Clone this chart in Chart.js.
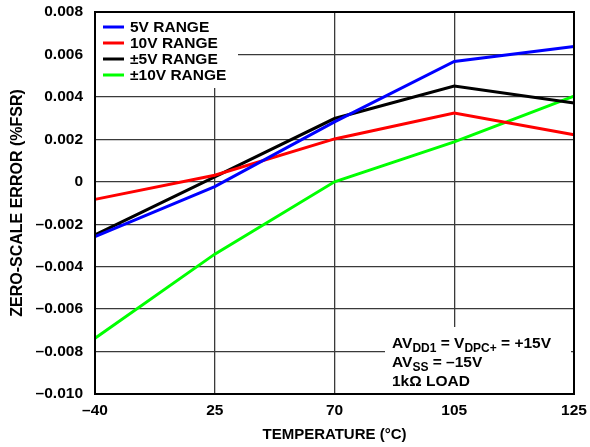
<!DOCTYPE html>
<html>
<head>
<meta charset="utf-8">
<script src="https://cdn.jsdelivr.net/npm/chart.js@4"></script>
<style>
  html, body { margin: 0; padding: 0; background: #fff; }
  #wrap { width: 590px; height: 447px; }
</style>
</head>
<body>
<div id="wrap"><canvas id="myChart" width="590" height="447"></canvas></div>
<script>
// temperatures (category axis, equally spaced in the reference)
const temps = ['\u201340', '25', '70', '105', '125'];

const range5V = [-0.00258, -0.00023, 0.00282, 0.00567, 0.00637];
const range10V = [-0.00083, 0.00031, 0.00202, 0.00324, 0.00222];
const rangePm5V = [-0.0025, 0.00023, 0.00298, 0.00451, 0.00371];
const rangePm10V = [-0.00737, -0.00341, 0.0, 0.00188, 0.00404];

const seriesNames = ['5V RANGE', '10V RANGE', '\u00b15V RANGE', '\u00b110V RANGE'];
const seriesColors = ['#0000ff', '#ff0000', '#000000', '#00ff00'];

const FONT = '"Liberation Sans", Arial, sans-serif';

function fmtTick(v) {
  if (Math.abs(v) < 1e-9) return '0';
  const s = Math.abs(v).toFixed(3);
  return v < 0 ? '\u2013' + s : s;
}

// draws text pieces, some as subscripts
function drawRich(ctx, x, y, parts) {
  let cx = x;
  parts.forEach(p => {
    if (p.sub) {
      ctx.font = 'bold 12px ' + FONT;
      ctx.fillText(p.t, cx, y + 4);
    } else {
      ctx.font = 'bold 15.5px ' + FONT;
      ctx.fillText(p.t, cx, y);
    }
    cx += ctx.measureText(p.t).width;
  });
}

const overlay = {
  id: 'overlay',
  afterDraw(chart) {
    const ctx = chart.ctx;
    const a = chart.chartArea;
    ctx.save();

    // legend box top-left
    ctx.fillStyle = '#fff';
    ctx.fillRect(a.left + 1, a.top + 1, 142, 75);
    chart.data.datasets.forEach((ds, i) => {
      const y = a.top + 15 + i * 16;
      ctx.strokeStyle = ds.borderColor;
      ctx.lineWidth = 3;
      ctx.beginPath();
      ctx.moveTo(a.left + 8, y);
      ctx.lineTo(a.left + 29, y);
      ctx.stroke();
      ctx.fillStyle = '#000';
      ctx.font = 'bold 15.5px ' + FONT;
      ctx.textBaseline = 'middle';
      ctx.fillText(ds.label, a.left + 35, y + 1);
    });

    // conditions box bottom-right
    ctx.fillStyle = '#fff';
    ctx.fillRect(385, 327, 186, a.bottom - 328);
    ctx.fillStyle = '#000';
    ctx.textBaseline = 'alphabetic';
    drawRich(ctx, 392, 348, [{t: 'AV'}, {t: 'DD1', sub: true}, {t: ' = V'}, {t: 'DPC+', sub: true}, {t: ' = +15V'}]);
    drawRich(ctx, 392, 367, [{t: 'AV'}, {t: 'SS', sub: true}, {t: ' = \u201315V'}]);
    drawRich(ctx, 392, 386, [{t: '1k\u03a9 LOAD'}]);

    // frame
    ctx.strokeStyle = '#000';
    ctx.lineWidth = 2;
    ctx.strokeRect(a.left, a.top, a.right - a.left, a.bottom - a.top);
    ctx.restore();
  }
};

const datasets = [range5V, range10V, rangePm5V, rangePm10V].map((d, i) => ({
  label: seriesNames[i],
  data: d,
  borderColor: seriesColors[i],
  backgroundColor: seriesColors[i],
  borderWidth: 3,
  pointRadius: 0,
  tension: 0,
  fill: false
}));

new Chart(document.getElementById('myChart'), {
  type: 'line',
  data: { labels: temps, datasets: datasets },
  options: {
    responsive: false,
    animation: false,
    events: [],
    layout: { padding: { top: 12, right: 16, left: 0, bottom: 0 } },
    plugins: { legend: { display: false }, tooltip: { enabled: false } },
    scales: {
      x: {
        type: 'category',
        offset: false,
        afterFit: s => { s.height = 53; s.paddingLeft = 0; s.paddingRight = 0; },
        grid: { color: '#3a3a3a', lineWidth: 1.3, drawTicks: false },
        border: { display: false },
        ticks: { color: '#000', font: { family: FONT, size: 15.5, weight: 'bold' }, padding: 7, maxRotation: 0 },
        title: { display: true, text: 'TEMPERATURE (\u00b0C)', color: '#000', font: { family: FONT, size: 15, weight: 'bold' }, padding: { top: 6, bottom: 3 } }
      },
      y: {
        min: -0.01,
        max: 0.008,
        afterFit: s => { s.width = 95; s.paddingTop = 0; s.paddingBottom = 0; },
        grid: { color: '#3a3a3a', lineWidth: 1.3, drawTicks: false },
        border: { display: false },
        ticks: { stepSize: 0.002, color: '#000', font: { family: FONT, size: 15.5, weight: 'bold' }, padding: 12, callback: v => fmtTick(v) },
        title: { display: true, text: 'ZERO-SCALE ERROR (%FSR)', color: '#000', font: { family: FONT, size: 16, weight: 'bold' }, padding: { top: 8, bottom: 0 } }
      }
    }
  },
  plugins: [overlay]
});
</script>
</body>
</html>
